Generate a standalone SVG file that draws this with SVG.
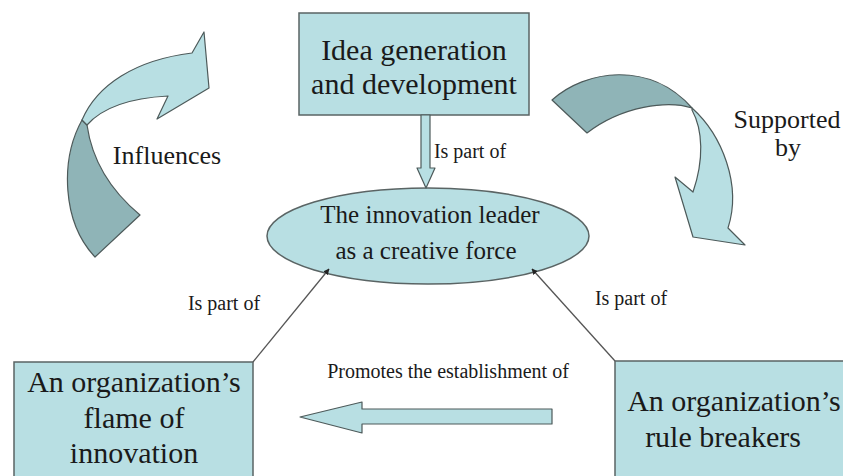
<svg xmlns="http://www.w3.org/2000/svg" width="843" height="476" viewBox="0 0 843 476">
<defs>
<style>
.box{fill:#B8DFE3;stroke:#5a6464;stroke-width:1.5}
.lt{fill:#B8DFE3;stroke:#4d5a5a;stroke-width:1.2;stroke-linejoin:round}
.dk{fill:#8FB4B7;stroke:#4d5a5a;stroke-width:1.2;stroke-linejoin:round}
text{font-family:'Liberation Serif','Times New Roman','DejaVu Serif','Noto Serif',serif;fill:#1a1a1a;text-anchor:middle}
.big{font-size:30px}
.mid{font-size:25px}
.sm{font-size:20px}
.lab{font-size:26px}
.con{stroke:#555;stroke-width:1.3;fill:none}
</style>
<marker id="ah" viewBox="0 0 10 10" refX="9" refY="5" markerWidth="6" markerHeight="6" orient="auto-start-reverse" markerUnits="userSpaceOnUse">
<path d="M0,0 L10,5 L0,10 Z" fill="#222"/>
</marker>
</defs>
<rect width="843" height="476" fill="#fff"/>

<g id="influences-arrow">
<path class="dk" d="M82,120 C60,160 62,222 95,257 L140,215 C110,190 92,160 87,125 Z"/>
<path class="lt" d="M82,120 C97,85 135,60 192,53 L204,32 L209,88 L157,119 L168,96 C130,98 102,108 87,125 Z"/>
<text class="lab" x="167" y="164" font-family="Liberation Serif, serif">Influences</text>
</g>

<g id="supported-arrow">
<path class="dk" d="M552,100 C585,70 650,60 692,108 C668,100 622,106 587,133 Z"/>
<path class="lt" d="M692,108 C722,135 742,185 728,228 L745,245 L693,237 L675,177 L693,192 C704,160 703,130 692,110 Z"/>
<text class="lab" x="787" y="128">Supported</text>
<text class="lab" x="788" y="156">by</text>
</g>

<g id="idea-box">
<rect class="box" x="299" y="13" width="230" height="102"/>
<text class="big" x="414" y="60">Idea generation</text>
<text class="big" x="414" y="94">and development</text>
</g>

<g id="leader-ellipse">
<ellipse class="box" cx="428" cy="236" rx="161" ry="48"/>
<text class="mid" x="430" y="223">The innovation leader</text>
<text class="mid" x="426" y="259">as a creative force</text>
</g>

<g id="flame-box">
<rect class="box" x="14" y="362" width="239" height="120"/>
<text class="big" x="134" y="392">An organization’s</text>
<text class="big" x="134" y="428">flame of</text>
<text class="big" x="134" y="463">innovation</text>
</g>

<g id="rule-box">
<rect class="box" x="615" y="361" width="240" height="120"/>
<text class="big" x="734" y="411">An organization’s</text>
<text class="big" x="723" y="447">rule breakers</text>
</g>

<g id="connectors">
<path class="lt" d="M421,115 L430,115 L430,168 L435,168 L426,188 L417,168 L421,168 Z"/>
<text class="sm" x="470" y="158">Is part of</text>
<line class="con" x1="253" y1="362" x2="329" y2="269" marker-end="url(#ah)"/>
<text class="sm" x="224" y="310">Is part of</text>
<line class="con" x1="615" y1="361" x2="532" y2="269" marker-end="url(#ah)"/>
<text class="sm" x="631" y="305">Is part of</text>
<path class="lt" d="M552,409 L552,424 L362,424 L362,433 L300,417 L362,402 L362,409 Z"/>
<text class="sm" x="448" y="378">Promotes the establishment  of</text>
</g>
</svg>
